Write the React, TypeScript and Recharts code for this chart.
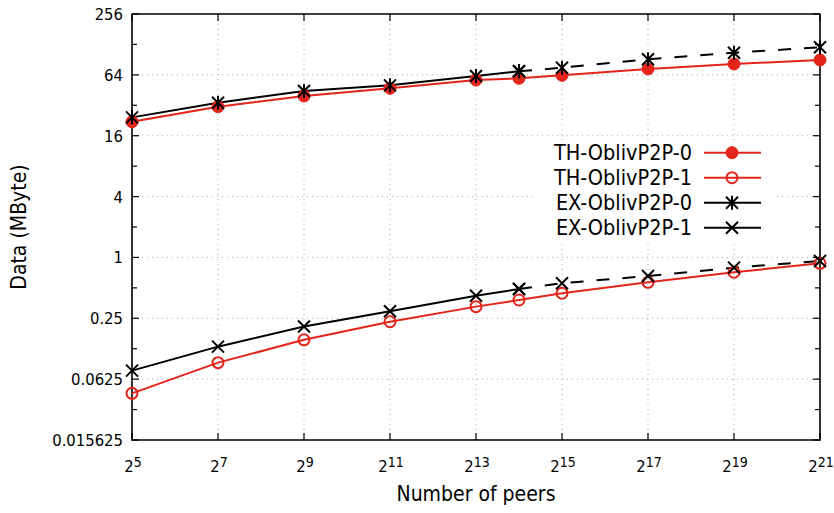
import React from 'react';
import { LineChart, Line, XAxis, YAxis, CartesianGrid, ReferenceArea } from 'recharts';

// ---------- data ----------
const peerExponents = [5, 7, 9, 11, 13, 14, 15, 17, 19, 21];
const thOblivP2P0 = [22.0, 31.0, 39.5, 47.1, 56.9, 59.2, 63.3, 73.2, 82.0, 89.8];
const thOblivP2P1 = [0.0452, 0.091, 0.153, 0.231, 0.326, 0.379, 0.442, 0.567, 0.713, 0.875];
const exOblivP2P0 = [24.3, 33.9, 44.3, 50.4, 62.4, 69.4, 75.3, 91.2, 106, 120];
const exOblivP2P1 = [0.0759, 0.131, 0.207, 0.293, 0.418, 0.487, 0.555, 0.655, 0.792, 0.922];
const measuredUpToExponent = 14;

const xTickExponents = [5, 7, 9, 11, 13, 15, 17, 19, 21];
const yMajorTicks = [0.015625, 0.0625, 0.25, 1, 4, 16, 64, 256];
const yMinorTicks = [0.03125, 0.125, 0.5, 2, 8, 32, 128];
const yTickLabels = ['0.015625', '0.0625', '0.25', '1', '4', '16', '64', '256'];

const legendNames = ['TH-OblivP2P-0', 'TH-OblivP2P-1', 'EX-OblivP2P-0', 'EX-OblivP2P-1'];

// ---------- layout / style ----------
const W = 834;
const H = 513;
const PLOT_LEFT = 132;
const PLOT_RIGHT = 820;
const PLOT_TOP = 14;
const PLOT_BOTTOM = 440;
const RED = '#e3241b';
const FONT = "'DejaVu Sans Condensed', 'DejaVu Sans', sans-serif";
const TICK_FS = 16.5;
const LABEL_FS = 21;
const LEGEND_FS = 21.5;

const data = peerExponents.map((e, i) => ({
  x: e,
  th0: thOblivP2P0[i],
  th1: thOblivP2P1[i],
  ex0Solid: e <= measuredUpToExponent ? exOblivP2P0[i] : undefined,
  ex0Dash: e >= measuredUpToExponent ? exOblivP2P0[i] : undefined,
  ex1Solid: e <= measuredUpToExponent ? exOblivP2P1[i] : undefined,
  ex1Dash: e >= measuredUpToExponent ? exOblivP2P1[i] : undefined,
}));

const FilledCircle = (p: any) =>
  p.cx == null || p.cy == null || p.value == null ? null : (
    <circle key={p.key} cx={p.cx} cy={p.cy} r={6} fill={RED} stroke={RED} strokeWidth={1} />
  );
const OpenCircle = (p: any) =>
  p.cx == null || p.cy == null || p.value == null ? null : (
    <circle key={p.key} cx={p.cx} cy={p.cy} r={5.5} fill="none" stroke={RED} strokeWidth={2} />
  );
const Star = (p: any) => {
  if (p.cx == null || p.cy == null || p.value == null) return null;
  const s = 6;
  const { cx, cy } = p;
  return (
    <g key={p.key} stroke="#000" strokeWidth={2}>
      <line x1={cx - s} y1={cy - s} x2={cx + s} y2={cy + s} />
      <line x1={cx - s} y1={cy + s} x2={cx + s} y2={cy - s} />
      <line x1={cx} y1={cy - s - 1} x2={cx} y2={cy + s + 1} />
    </g>
  );
};
const Cross = (p: any) => {
  if (p.cx == null || p.cy == null || p.value == null) return null;
  const s = 6;
  const { cx, cy } = p;
  return (
    <g key={p.key} stroke="#000" strokeWidth={2}>
      <line x1={cx - s} y1={cy - s} x2={cx + s} y2={cy + s} />
      <line x1={cx - s} y1={cy + s} x2={cx + s} y2={cy - s} />
    </g>
  );
};

const YTick = (props: any) => {
  const { y, payload } = props;
  const v = payload.value;
  const idx = yMajorTicks.indexOf(v);
  const major = idx >= 0;
  const len = major ? 7 : 5;
  return (
    <g>
      <line x1={PLOT_LEFT} x2={PLOT_LEFT + len} y1={y} y2={y} stroke="#000" strokeWidth={1.2} />
      <line x1={PLOT_RIGHT - len} x2={PLOT_RIGHT} y1={y} y2={y} stroke="#000" strokeWidth={1.2} />
      {major && (
        <text x={123} y={y} dy="0.36em" textAnchor="end" fontFamily={FONT} fontSize={TICK_FS} fill="#000">
          {yTickLabels[idx]}
        </text>
      )}
    </g>
  );
};

const XTick = (props: any) => {
  const { x, payload } = props;
  return (
    <g>
      <line x1={x} x2={x} y1={PLOT_BOTTOM} y2={PLOT_BOTTOM - 7} stroke="#000" strokeWidth={1.2} />
      <line x1={x} x2={x} y1={PLOT_TOP} y2={PLOT_TOP + 7} stroke="#000" strokeWidth={1.2} />
      <text x={x + 1} y={471.5} textAnchor="middle" fontFamily={FONT} fill="#000">
        <tspan fontSize={TICK_FS}>2</tspan>
        <tspan fontSize={14} dy={-5}>{payload.value}</tspan>
      </text>
    </g>
  );
};

const legendStyles = [
  { color: RED, Marker: FilledCircle },
  { color: RED, Marker: OpenCircle },
  { color: '#000', Marker: Star },
  { color: '#000', Marker: Cross },
];

const LegendBox = () => (
  <svg width={240} height={100} style={{ display: 'block', background: '#fff' }}>
    {legendNames.map((name, i) => {
      const cy = 12.7 + i * 25;
      const { color, Marker } = legendStyles[i];
      return (
        <g key={name}>
          <text x={159} y={cy} dy="0.36em" textAnchor="end" fontFamily={FONT} fontSize={LEGEND_FS} fill="#000">
            {name}
          </text>
          <line x1={171} x2={228} y1={cy} y2={cy} stroke={color} strokeWidth={2} />
          <Marker cx={199} cy={cy} value={1} />
        </g>
      );
    })}
  </svg>
);

export default function App() {
  return (
    <div style={{ position: 'absolute', left: 0, top: 0, width: W, height: H, background: '#fff' }}>
      <LineChart
        width={W}
        height={H}
        data={data}
        margin={{ top: PLOT_TOP, right: W - PLOT_RIGHT, bottom: 0, left: 0 }}
      >
        <CartesianGrid
          stroke="#a8a8a8"
          strokeDasharray="1 4"
          strokeWidth={1}
          horizontalValues={yMajorTicks}
          verticalValues={xTickExponents}
        />
        <XAxis
          dataKey="x"
          type="number"
          domain={[5, 21]}
          ticks={xTickExponents}
          interval={0}
          height={H - PLOT_BOTTOM}
          axisLine={false}
          tickLine={false}
          tick={<XTick />}
          label={{
            content: () => (
              <text x={(PLOT_LEFT + PLOT_RIGHT) / 2} y={501} textAnchor="middle" fontFamily={FONT} fontSize={LABEL_FS} fill="#000">
                Number of peers
              </text>
            ),
          }}
        />
        <YAxis
          type="number"
          scale="log"
          domain={[0.015625, 256]}
          allowDataOverflow
          ticks={[...yMajorTicks, ...yMinorTicks].sort((a, b) => a - b)}
          interval={0}
          width={PLOT_LEFT}
          axisLine={false}
          tickLine={false}
          tick={<YTick />}
          label={{
            content: () => (
              <text
                x={26}
                y={(PLOT_TOP + PLOT_BOTTOM) / 2}
                transform={`rotate(-90 26 ${(PLOT_TOP + PLOT_BOTTOM) / 2})`}
                textAnchor="middle"
                fontFamily={FONT}
                fontSize={LABEL_FS}
                fill="#000"
              >
                Data (MByte)
              </text>
            ),
          }}
        />
        <ReferenceArea
          x1={5}
          x2={21}
          y1={0.015625}
          y2={256}
          fill="none"
          fillOpacity={0}
          stroke="#000"
          strokeWidth={1.6}
          ifOverflow="visible"
        />
        <Line dataKey="th0" stroke={RED} strokeWidth={2} dot={<FilledCircle />} isAnimationActive={false} />
        <Line dataKey="th1" stroke={RED} strokeWidth={2} dot={<OpenCircle />} isAnimationActive={false} />
        <Line dataKey="ex0Solid" stroke="#000" strokeWidth={2} dot={<Star />} isAnimationActive={false} />
        <Line dataKey="ex0Dash" stroke="#000" strokeWidth={2} strokeDasharray="13 13" dot={<Star />} isAnimationActive={false} />
        <Line dataKey="ex1Solid" stroke="#000" strokeWidth={2} dot={<Cross />} isAnimationActive={false} />
        <Line dataKey="ex1Dash" stroke="#000" strokeWidth={2} strokeDasharray="13 13" dot={<Cross />} isAnimationActive={false} />
      </LineChart>
      <div style={{ position: 'absolute', left: 533, top: 140, width: 240, height: 100 }}>
        <LegendBox />
      </div>
    </div>
  );
}
